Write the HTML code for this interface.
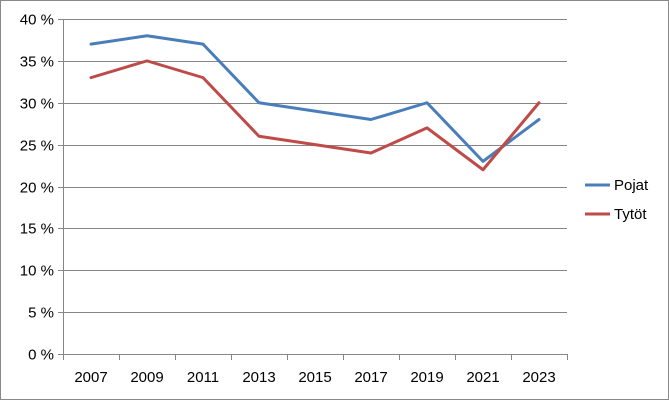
<!DOCTYPE html>
<html><head><meta charset="utf-8"><style>
html,body{margin:0;padding:0;background:#fff}
svg{display:block;font-family:"Liberation Sans",Arial,sans-serif}
</style></head><body>
<svg id="chart" width="669" height="400" viewBox="0 0 669 400" xmlns="http://www.w3.org/2000/svg">
<rect x="0.5" y="0.5" width="668" height="399" fill="#fff" stroke="#888"/>
<g id="grid"></g>
<g id="axes"></g>
<g id="series"></g>
<g id="legend"></g>
</svg>
<script>
const categories=["2007","2009","2011","2013","2015","2017","2019","2021","2023"];
const pojat=[37,38,37,30,29,28,30,23,28];
const tytot=[33,35,33,26,25,24,27,22,30];
const yTicks=[0,5,10,15,20,25,30,35,40];
const seriesNames=["Pojat","Tytöt"];
const NS="http://www.w3.org/2000/svg";
const L=63,R=567,T=19,B=354,yMax=40;
const band=(R-L)/categories.length;
const x=i=>L+band*(i+0.5);
const y=v=>B-(v/yMax)*(B-T);
function mk(tag,attrs,parent,text){const e=document.createElementNS(NS,tag);for(const k in attrs)e.setAttribute(k,attrs[k]);if(text!==undefined)e.textContent=text;parent.appendChild(e);return e;}
const grid=document.getElementById('grid'),axes=document.getElementById('axes'),ser=document.getElementById('series'),leg=document.getElementById('legend');
yTicks.forEach(t=>{
  const yy=Math.round(y(t))+0.5;
  if(t>0){const g=mk('line',{x1:L,x2:R,y1:yy,y2:yy,stroke:'#868686','stroke-width':1},grid);
  
  }
  const tk=mk('line',{x1:L-5,x2:L,y1:yy,y2:yy,stroke:'#868686'},axes);
  
  
  const lb=mk('text',{x:L-9,y:yy+5,'text-anchor':'end','font-size':15,fill:'#000'},axes,t+' %');
  
  
});
const ax=mk('line',{x1:L+0.5,x2:L+0.5,y1:T,y2:B,stroke:'#868686'},axes);


const xa=mk('line',{x1:L,x2:R,y1:B+0.5,y2:B+0.5,stroke:'#868686'},axes);


for(let i=0;i<=categories.length;i++){
  const xx=Math.round(L+band*i)+0.5;
  const tk=mk('line',{x1:xx,x2:xx,y1:B,y2:B+6,stroke:'#868686'},axes);
  
  
}
categories.forEach((c,i)=>{
  const lb=mk('text',{x:x(i),y:B+28,'text-anchor':'middle','font-size':15,fill:'#000'},axes,c);
  
  
});
const colors=["#4a7ebb","#be4b48"];
[pojat,tytot].forEach((d,s)=>{
  const p=mk('polyline',{points:d.map((v,i)=>x(i)+','+y(v)).join(' '),fill:'none',stroke:colors[s],'stroke-width':3,'stroke-linejoin':'round','stroke-linecap':'round'},ser);
  
  
  const ly=185+s*29;
  const g=mk('g',{},leg);
  
  
  mk('line',{x1:585,x2:610,y1:ly,y2:ly,stroke:colors[s],'stroke-width':3},g);
  mk('text',{x:614,y:ly+5,'font-size':15,fill:'#000'},g,seriesNames[s]);
});
</script>
</body></html>
